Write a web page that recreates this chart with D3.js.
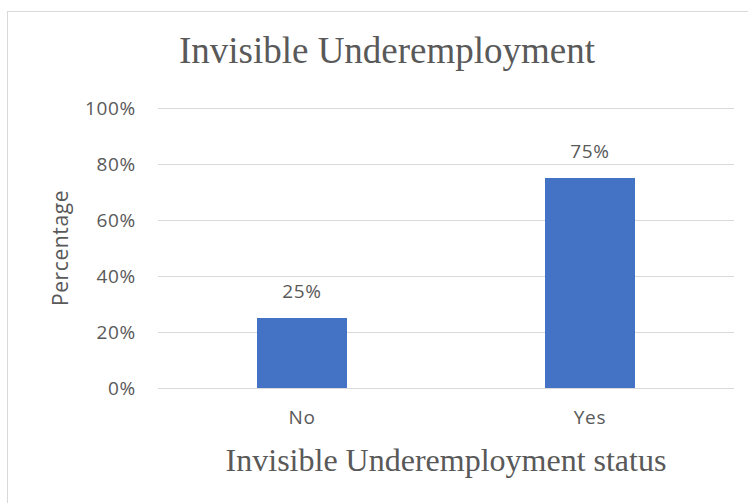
<!DOCTYPE html>
<html>
<head>
<meta charset="utf-8">
<script src="https://cdn.jsdelivr.net/npm/d3@7"></script>
<style>
  body { margin: 0; background: #fff; }
  text { fill: #595959; }
</style>
</head>
<body>
<div id="chart"></div>
<script>
// chart data
var categories = ["No", "Yes"];
var values = [25, 75];
var yTicks = [0, 20, 40, 60, 80, 100];

var width = 748, height = 503;
var plot = { left: 158, right: 734, top: 108, bottom: 388 };
var smallFont = "'Open Sans', sans-serif";

var svg = d3.select("#chart").append("svg")
    .attr("width", width)
    .attr("height", height);

// chart frame
svg.append("rect")
    .attr("x", 7.5).attr("y", 11.5)
    .attr("width", 800).attr("height", 600)
    .attr("fill", "none")
    .attr("stroke", "#d9d9d9");

var x = d3.scaleBand()
    .domain(categories)
    .range([plot.left, plot.right])
    .paddingInner(0.6875)
    .paddingOuter(0.34375);

var y = d3.scaleLinear()
    .domain([0, 100])
    .range([plot.bottom, plot.top]);

// gridlines + y labels
var yAxis = d3.axisLeft(y)
    .tickValues(yTicks)
    .tickSize(-(plot.right - plot.left))
    .tickPadding(22)
    .tickFormat(function(d) { return d + "%"; });

var gy = svg.append("g")
    .attr("transform", "translate(" + plot.left + ",0)")
    .call(yAxis);
gy.select(".domain").remove();
gy.selectAll(".tick line").attr("stroke", "#d9d9d9").attr("stroke-width", 1);
gy.selectAll(".tick text")
    .attr("font-family", smallFont)
    .attr("font-size", 19)
    .attr("letter-spacing", 0.7)
    .attr("fill", "#595959");

// bars
svg.selectAll("rect.bar")
    .data(values)
    .enter().append("rect")
    .attr("class", "bar")
    .attr("x", function(d, i) { return x(categories[i]); })
    .attr("y", function(d) { return y(d); })
    .attr("width", x.bandwidth())
    .attr("height", function(d) { return y(0) - y(d); })
    .attr("fill", "#4472c4");

// value labels
svg.selectAll("text.val")
    .data(values)
    .enter().append("text")
    .attr("class", "val")
    .attr("x", function(d, i) { return x(categories[i]) + x.bandwidth() / 2; })
    .attr("y", function(d) { return y(d) - 20; })
    .attr("text-anchor", "middle")
    .attr("font-family", smallFont)
    .attr("font-size", 19)
    .attr("letter-spacing", 0.7)
    .text(function(d) { return d + "%"; });

// category labels
svg.selectAll("text.cat")
    .data(categories)
    .enter().append("text")
    .attr("class", "cat")
    .attr("x", function(d) { return x(d) + x.bandwidth() / 2; })
    .attr("y", 424)
    .attr("text-anchor", "middle")
    .attr("font-family", smallFont)
    .attr("font-size", 19)
    .attr("letter-spacing", 0.7)
    .text(function(d) { return d; });

// titles
svg.append("text")
    .attr("x", 387).attr("y", 63)
    .attr("text-anchor", "middle")
    .attr("font-family", "'Liberation Serif', 'Times New Roman', serif")
    .attr("font-size", 37)
    .text("Invisible Underemployment");

svg.append("text")
    .attr("x", (plot.left + plot.right) / 2).attr("y", 471)
    .attr("text-anchor", "middle")
    .attr("font-family", "'Liberation Serif', 'Times New Roman', serif")
    .attr("font-size", 32)
    .text("Invisible Underemployment status");

svg.append("text")
    .attr("transform", "translate(68," + ((plot.top + plot.bottom) / 2) + ") rotate(-90)")
    .attr("text-anchor", "middle")
    .attr("font-family", smallFont)
    .attr("font-size", 21)
    .attr("letter-spacing", 0.6)
    .text("Percentage");
</script>
</body>
</html>
